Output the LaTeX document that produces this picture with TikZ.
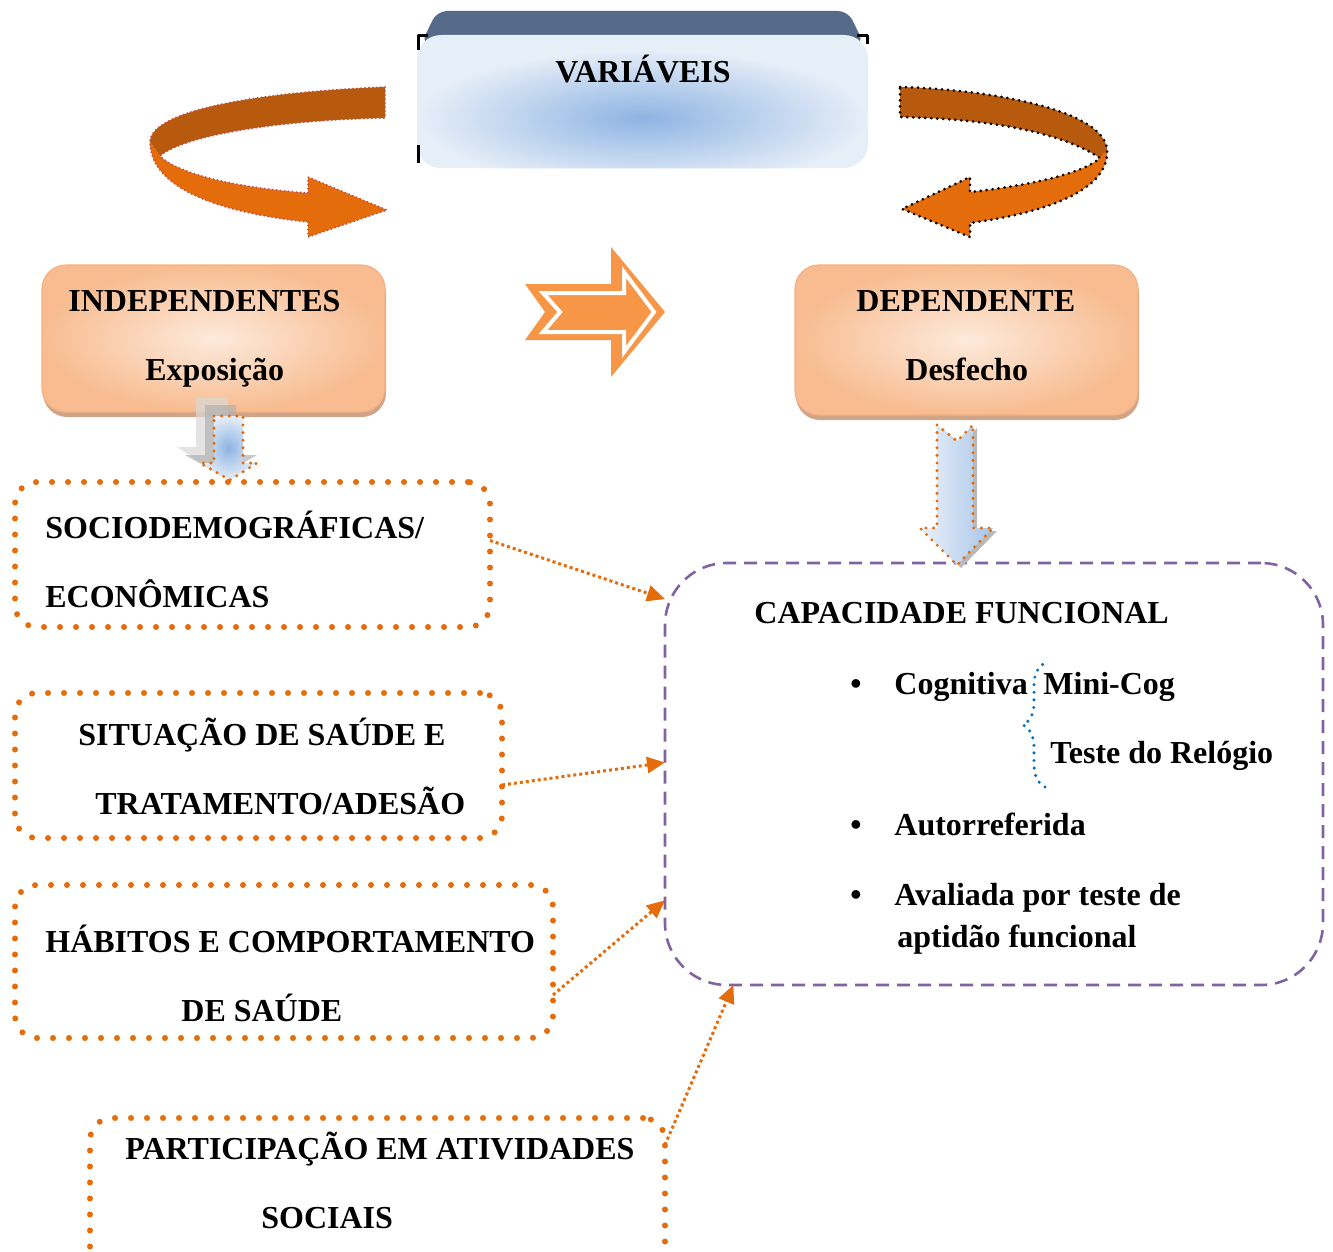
\documentclass[tikz,border=0pt]{standalone}
\usepackage{fontspec}
\setmainfont{Liberation Serif}
\usetikzlibrary{arrows.meta,shadows,decorations.pathreplacing}
\definecolor{laranja}{HTML}{E46C0A}
\definecolor{laranjaesc}{HTML}{B75A0D}
\definecolor{pessego}{HTML}{F79646}
\definecolor{roxo}{HTML}{8064A2}
\definecolor{azulcl}{HTML}{E6EEF8}
\definecolor{azulmd}{HTML}{8EB4E3}
\definecolor{ardosia}{HTML}{566B8A}
\definecolor{azulchave}{HTML}{0070C0}
\definecolor{pelecl}{HTML}{FDEADC}
\definecolor{pelesc}{HTML}{F8BC90}
\definecolor{peleborda}{HTML}{F4B183}
\definecolor{sombra}{HTML}{CFA487}
\definecolor{vermelhao}{HTML}{C0504D}

\begin{document}
\begin{tikzpicture}[x=0.5pt, y=-0.5pt, line join=round, font=\fontsize{16}{19}\selectfont\bfseries, >={Triangle[length=9pt,width=8pt]}]
	\tikzset{pontilhada/.style={draw=laranja, line width=3pt, dash pattern=on 0pt off 8pt, line cap=round, rounded corners=11pt, inner sep=0pt, outer sep=0pt},
		tracejada/.style={draw=roxo, line width=1.3pt, dash pattern=on 6.5pt off 4pt, rounded corners=31pt, inner sep=0pt, outer sep=0pt},
		pelebox/.style={draw=peleborda, line width=0.6pt, rounded corners=12pt, shading=radial, inner color=pelecl, outer color=pelesc, drop shadow={shadow xshift=0.5pt, shadow yshift=-2.5pt, fill=sombra, opacity=1}, minimum width=171.5pt, minimum height=73.5pt, inner sep=0pt},
		seta/.style={->, draw=laranja, line width=1.5pt, dash pattern=on 1.5pt off 1.5pt},
		borda/.style={line width=1.7pt, dash pattern=on 0pt off 3.8pt, line cap=round},
		rotulo/.style={anchor=base west, inner sep=0pt},
		rotuloc/.style={anchor=base, inner sep=0pt}}
	\useasboundingbox (0,0) rectangle (1333,1252);
	\clip (0,0) rectangle (1333,1252);
	\fill[ardosia, rounded corners=5pt] (421,44) -- (437,11) -- (848,11) -- (864,44) -- cycle;
	\node[fill=azulcl, rounded corners=12pt, minimum width=225.5pt, minimum height=66.5pt, inner sep=0pt] (varbox) at (642.5,101.5) {};
	\begin{scope}
		\clip[rounded corners=12pt] (varbox.south west) rectangle (varbox.north east);
		\shade[inner color=azulmd, outer color=azulcl] (643,118) ellipse [x radius=112pt, y radius=34pt];
	\end{scope}
	\draw[line width=1.5pt] (418,50)--(418,36)--(428,36) (857,36)--(867,36)--(867,44) (418,145)--(418,163);
	\node[rotuloc] (var) at (643,83) {VARIÁVEIS};
	\fill[laranjaesc] (385,87) .. controls (260,92) and (150,110) .. (150,142) -- (160,156) .. controls (185,135) and (280,120) .. (385,118) -- cycle;
	\fill[laranja] (150,142) .. controls (150,195) and (240,215) .. (308,222) -- (308,237) -- (387,210) -- (308,177) -- (308,193) .. controls (240,188) and (180,175) .. (160,156) -- cycle;
	\draw[vermelhao, line width=1pt, dash pattern=on 0pt off 2pt, line cap=round] (385,87) .. controls (260,92) and (150,110) .. (150,142) .. controls (150,195) and (240,215) .. (308,222) -- (308,237) -- (387,210) -- (308,177) -- (308,193) .. controls (240,188) and (180,175) .. (160,156) .. controls (185,135) and (280,120) .. (385,118) -- cycle;
	\fill[laranjaesc] (900,87) .. controls (1000,90) and (1105,112) .. (1107,150) -- (1100,158) .. controls (1060,132) and (990,119) .. (900,117) -- cycle;
	\fill[laranja] (1107,150) .. controls (1110,195) and (1030,215) .. (970,223) -- (970,237) -- (902,209) -- (970,177) -- (970,192) .. controls (1035,185) and (1085,172) .. (1100,158) -- cycle;
	\draw[black, line width=1.5pt, dash pattern=on 0pt off 3pt, line cap=round] (900,87) .. controls (1000,90) and (1105,112) .. (1107,150) .. controls (1110,195) and (1030,215) .. (970,223) -- (970,237) -- (902,209) -- (970,177) -- (970,192) .. controls (1035,185) and (1085,172) .. (1100,158) .. controls (1060,132) and (990,119) .. (900,117) -- cycle;
	\fill[pessego] (525,284) -- (611,284) -- (611,247) -- (665,312) -- (611,377) -- (611,340) -- (525,340) -- (545,312) -- cycle;
	\draw[white, line width=2pt, line join=miter] (543,293) -- (624,293) -- (624,272) -- (654,312) -- (624,352) -- (624,332) -- (543,332) -- (560,312) -- cycle;
	\node[pelebox] (indep) at (213.5,338.5) {};
	\node[pelebox, minimum height=75pt] (dep) at (966.5,340) {};
	\node[rotulo] (indep1) at (68,311) {INDEPENDENTES};
	\node[rotulo] (indep2) at (145,380) {Exposição};
	\node[rotulo] (dep1) at (856,311) {DEPENDENTE};
	\node[rotulo] (dep2) at (905,380) {Desfecho};
	\fill[gray!30, opacity=0.7] (196,398) -- (228,398) -- (228,447) -- (245,447) -- (212,470) -- (177,447) -- (196,447) -- cycle;
	\fill[gray!60, opacity=0.7] (205,405) -- (236,405) -- (236,455) -- (257,455) -- (222,476) -- (185,455) -- (205,455) -- cycle;
	\shade[inner color=azulmd, outer color=azulcl] (214,416) -- (243,416) -- (243,463) -- (257,463) -- (230,480) -- (200,463) -- (214,463) -- cycle;
	\draw[borda, draw=laranja] (214,416) -- (243,416) -- (243,463) -- (257,463) -- (230,480) -- (200,463) -- (214,463) -- cycle;
	\node[pontilhada, minimum width=237.5pt, minimum height=72.5pt] (socio) at (252.5,554.5) {};
	\node[pontilhada, minimum width=243.5pt, minimum height=72.5pt] (sit) at (258.5,765.5) {};
	\node[pontilhada, minimum width=269pt, minimum height=76.5pt] (hab) at (284,961.5) {};
	\node[pontilhada, minimum width=287.5pt, minimum height=76pt] (part) at (377.5,1194) {};
	\node[tracejada, minimum width=329pt, minimum height=211pt] (cap) at (994,774) {};
	\node[rotulo] (socio1) at (45,538) {SOCIODEMOGRÁFICAS/};
	\node[rotulo] (socio2) at (45,607) {ECONÔMICAS};
	\node[rotulo] (sit1) at (78,745) {SITUAÇÃO DE SAÚDE E};
	\node[rotulo] (sit2) at (95,814) {TRATAMENTO/ADESÃO};
	\node[rotulo] (hab1) at (45,952) {HÁBITOS E COMPORTAMENTO};
	\node[rotulo] (hab2) at (181,1021) {DE SAÚDE};
	\node[rotulo] (part1) at (125,1159) {PARTICIPAÇÃO EM ATIVIDADES};
	\node[rotulo] (part2) at (261,1228) {SOCIAIS};
	\node[rotulo] (cap1) at (754,623) {CAPACIDADE FUNCIONAL};
	\node[rotuloc] (b1) at (856,694) {•};
	\node[rotuloc] (b2) at (856,835) {•};
	\node[rotuloc] (b3) at (856,905) {•};
	\node[rotulo] (cog) at (894,694) {Cognitiva};
	\node[rotulo] (mini) at (1043,694) {Mini-Cog};
	\node[rotulo] (rel) at (1050,763) {Teste do Relógio};
	\node[rotulo] (auto) at (894,835) {Autorreferida};
	\node[rotulo] (aval) at (894,905) {Avaliada por teste de};
	\node[rotulo] (apt) at (897,947) {aptidão funcional};
	\draw[azulchave, borda, decorate, decoration={brace, amplitude=11pt}] (1045,787) -- (1045,663);
	\fill[gray!55] (941,428) -- (961,444) -- (977,428) -- (977,531) -- (997,531) -- (961,568) -- (924,531) -- (941,531) -- cycle;
	\shade[left color=azulcl!80!white, right color=azulmd!70!azulcl] (937,425) -- (957,441) -- (973,425) -- (973,528) -- (993,528) -- (957,565) -- (920,528) -- (937,528) -- cycle;
	\draw[borda, draw=laranja] (937,425) -- (957,441) -- (973,425) -- (973,528) -- (993,528) -- (957,565) -- (920,528) -- (937,528) -- cycle;
	\draw[seta] ([yshift=7pt]socio.east) -- (cap.152);
	\draw[seta] ([yshift=-9.75pt]sit.east) -- (cap.178);
	\draw[seta] ([yshift=-16.75pt]hab.east) -- (cap.201);
	\draw[seta] ([yshift=-13.5pt]part.north east) -- (cap.219);
\end{tikzpicture}
\end{document}
